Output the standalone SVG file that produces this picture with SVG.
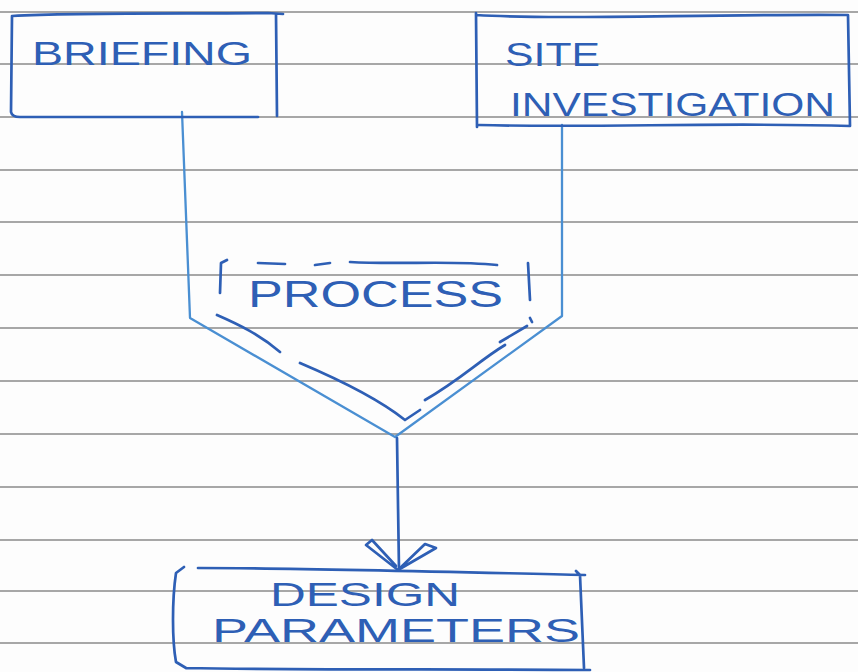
<svg xmlns="http://www.w3.org/2000/svg" width="858" height="672" viewBox="0 0 858 672">
<style>
.rule{stroke:#8a8a8a;stroke-width:1.4}
.ink{fill:none;stroke:#2e5fb5;stroke-width:2.7;stroke-linecap:round;stroke-linejoin:round}
.lite{fill:none;stroke:#4a8fd2;stroke-width:2.3;stroke-linecap:round;stroke-linejoin:round}
.t{font-family:"Liberation Sans",Arial,sans-serif;fill:#2e5fb5;font-size:34px}
</style>
<rect width="858" height="672" fill="#fdfdfd"/>
<g id="paper">
<line class="rule" x1="0" y1="12" x2="858" y2="12"/>
<line class="rule" x1="0" y1="64" x2="858" y2="64"/>
<line class="rule" x1="0" y1="117" x2="858" y2="117"/>
<line class="rule" x1="0" y1="170" x2="858" y2="170"/>
<line class="rule" x1="0" y1="222" x2="858" y2="222"/>
<line class="rule" x1="0" y1="275" x2="858" y2="275"/>
<line class="rule" x1="0" y1="328" x2="858" y2="328"/>
<line class="rule" x1="0" y1="381" x2="858" y2="381"/>
<line class="rule" x1="0" y1="434" x2="858" y2="434"/>
<line class="rule" x1="0" y1="487" x2="858" y2="487"/>
<line class="rule" x1="0" y1="540" x2="858" y2="540"/>
<line class="rule" x1="0" y1="591" x2="858" y2="591"/>
<line class="rule" x1="0" y1="643" x2="858" y2="643"/>
</g>
<g id="connectors">
<path class="lite" d="M182,112 L190,318 L395,437 L562,316 L562,125"/>
<path class="ink" d="M397,438 L399,570"/>
<path class="ink" d="M366,545 L398,570 L436,548 L425,544 L398,570 M366,545 L372,540 L396,566"/>
</g>
<g id="briefing">
<path class="ink" d="M12,16 C80,12 200,14 268,13 L283,14 M276,14 L277,116 M12,16 L11,112 Q12,117 20,117 L258,117"/>
<text class="t" x="32" y="65" textLength="220" lengthAdjust="spacingAndGlyphs">BRIEFING</text>
</g>
<g id="site">
<path class="ink" d="M476,13 L477,127 M476,15 C560,20 700,14 848,15 L850,126 M479,125 C600,128 720,122 850,126"/>
<text class="t" x="505" y="66" textLength="95" lengthAdjust="spacingAndGlyphs">SITE</text>
<text class="t" x="510" y="116" textLength="325" lengthAdjust="spacingAndGlyphs">INVESTIGATION</text>
</g>
<g id="process">
<path class="ink" d="M227,260 L221,263 L220,293 M258,263 L285,264 M315,265 L330,263 M350,262 C400,265 450,260 497,265 M528,263 L530,300 M217,315 C240,325 260,335 280,352 M300,363 C340,380 380,400 405,420 L420,410 M425,400 C460,380 480,360 505,345 M500,342 L527,326 M530,318 L532,322"/>
<text class="t" x="248" y="307" style="font-size:37px" textLength="255" lengthAdjust="spacingAndGlyphs">PROCESS</text>
</g>
<g id="design">
<path class="ink" d="M184,567 L176,573 C172,600 172,640 176,662 L186,668 M198,568 C300,568 450,572 585,575 M576,571 L580,575 L584,668 M186,668 C300,670 450,669 590,670"/>
<text class="t" x="270" y="606" textLength="190" lengthAdjust="spacingAndGlyphs">DESIGN</text>
<text class="t" x="212" y="642" textLength="368" lengthAdjust="spacingAndGlyphs">PARAMETERS</text>
</g>
</svg>
